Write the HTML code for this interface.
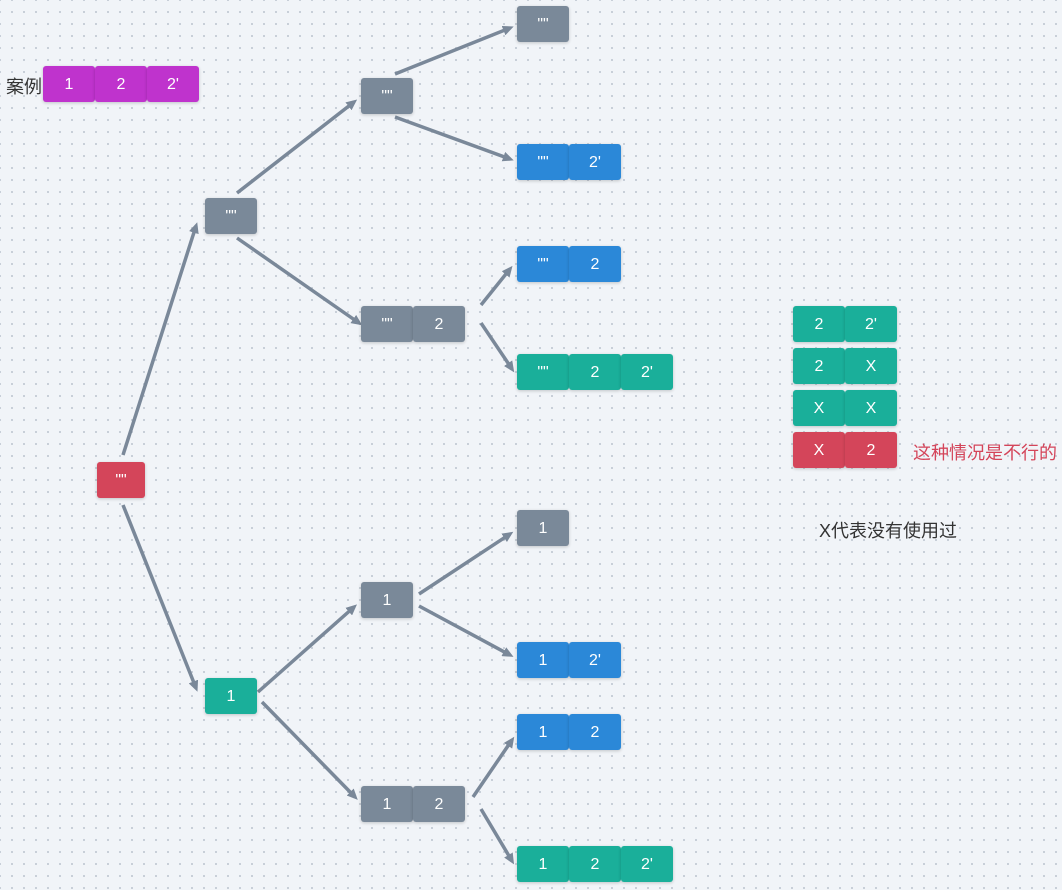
<!DOCTYPE html><html><head><meta charset="utf-8"><style>
body{margin:0;width:1062px;height:890px;overflow:hidden;background-color:#f1f4f8;background-image:radial-gradient(circle,#c5ccd6 1px,transparent 1.2px);background-size:12px 12px;background-position:6px 6px;font-family:"Liberation Sans","Noto Sans CJK SC",sans-serif;position:relative}
.b{position:absolute;height:36px;width:52px;border-radius:3px;color:#fff;font-size:16px;display:flex;align-items:center;justify-content:center;box-shadow:0 1px 3px rgba(0,0,0,.2);box-sizing:border-box;padding-top:2px}
.g{background:#7a8999}.bl{background:#2b88d8}.t{background:#1aaf9a}.r{background:#d4455a}.p{background:#bf33cd}
.tx{position:absolute;font-size:18px}
</style></head><body>
<svg width="1062" height="890" style="position:absolute;left:0;top:0">
<defs><marker id="a" markerWidth="11" markerHeight="10" refX="7" refY="5" orient="auto" markerUnits="userSpaceOnUse"><path d="M0,0 L11,5 L0,10 z" fill="#7a8899"/></marker></defs>
<g stroke="#7a8899" stroke-width="3.5" marker-end="url(#a)" fill="none">
<line x1="123" y1="455" x2="196" y2="226"/>
<line x1="123" y1="505" x2="196" y2="688"/>
<line x1="237" y1="193" x2="354" y2="102"/>
<line x1="237" y1="238" x2="359" y2="323"/>
<line x1="395" y1="74" x2="510" y2="28"/>
<line x1="395" y1="117" x2="510" y2="159"/>
<line x1="481" y1="305" x2="510" y2="269"/>
<line x1="481" y1="323" x2="512" y2="369"/>
<line x1="258" y1="692" x2="354" y2="607"/>
<line x1="262" y1="702" x2="355" y2="797"/>
<line x1="419" y1="594" x2="510" y2="534"/>
<line x1="419" y1="606" x2="510" y2="655"/>
<line x1="473" y1="797" x2="512" y2="740"/>
<line x1="481" y1="809" x2="512" y2="861"/>
</g></svg>
<div class="tx" style="left:6px;top:73px;color:#333">案例</div>
<div class="b p" style="left:43px;top:66px">1</div><div class="b p" style="left:95px;top:66px">2</div><div class="b p" style="left:147px;top:66px">2'</div>
<div class="b r" style="left:97px;top:462px;width:48px">""</div>
<div class="b g" style="left:205px;top:198px">""</div>
<div class="b g" style="left:361px;top:78px">""</div>
<div class="b g" style="left:517px;top:6px">""</div>
<div class="b bl" style="left:517px;top:144px">""</div><div class="b bl" style="left:569px;top:144px">2'</div>
<div class="b g" style="left:361px;top:306px">""</div><div class="b g" style="left:413px;top:306px">2</div>
<div class="b bl" style="left:517px;top:246px">""</div><div class="b bl" style="left:569px;top:246px">2</div>
<div class="b t" style="left:517px;top:354px">""</div><div class="b t" style="left:569px;top:354px">2</div><div class="b t" style="left:621px;top:354px">2'</div>
<div class="b t" style="left:205px;top:678px">1</div>
<div class="b g" style="left:361px;top:582px">1</div>
<div class="b g" style="left:517px;top:510px">1</div>
<div class="b bl" style="left:517px;top:642px">1</div><div class="b bl" style="left:569px;top:642px">2'</div>
<div class="b g" style="left:361px;top:786px">1</div><div class="b g" style="left:413px;top:786px">2</div>
<div class="b bl" style="left:517px;top:714px">1</div><div class="b bl" style="left:569px;top:714px">2</div>
<div class="b t" style="left:517px;top:846px">1</div><div class="b t" style="left:569px;top:846px">2</div><div class="b t" style="left:621px;top:846px">2'</div>
<div class="b t" style="left:793px;top:306px">2</div><div class="b t" style="left:845px;top:306px">2'</div>
<div class="b t" style="left:793px;top:348px">2</div><div class="b t" style="left:845px;top:348px">X</div>
<div class="b t" style="left:793px;top:390px">X</div><div class="b t" style="left:845px;top:390px">X</div>
<div class="b r" style="left:793px;top:432px">X</div><div class="b r" style="left:845px;top:432px">2</div>
<div class="tx" style="left:913px;top:439px;color:#d4455a">这种情况是不行的</div>
<div class="tx" style="left:819px;top:517px;color:#333">X代表没有使用过</div>
</body></html>
